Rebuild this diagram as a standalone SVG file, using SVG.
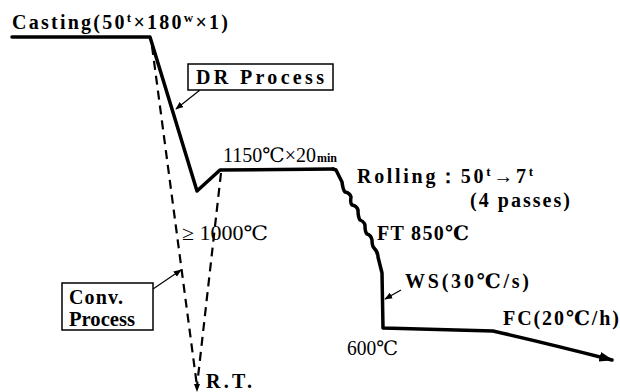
<svg xmlns="http://www.w3.org/2000/svg" width="620" height="392" viewBox="0 0 620 392">
<defs>
<style>
.t{font-family:"Liberation Serif","DejaVu Serif",serif;font-size:20px;fill:#000;font-weight:bold}
.tn{font-family:"Liberation Serif","DejaVu Serif",serif;font-size:20px;fill:#000}
.main{fill:none;stroke:#000;stroke-width:3.5;stroke-linejoin:round;stroke-linecap:round}
.dash{fill:none;stroke:#000;stroke-width:2.2;stroke-dasharray:9,6}
.lead{fill:none;stroke:#000;stroke-width:1.2}
.box{fill:#fff;stroke:#000;stroke-width:1.5}
</style>
<marker id="ah" viewBox="0 0 10 10" refX="9" refY="5" markerWidth="8" markerHeight="8" orient="auto" markerUnits="userSpaceOnUse">
<path d="M0,1 L10,5 L0,9 z" fill="#000"/>
</marker>
<marker id="ahb" viewBox="0 0 10 10" refX="9" refY="5" markerWidth="14" markerHeight="14" orient="auto" markerUnits="userSpaceOnUse">
<path d="M0,1.5 L10,5 L0,8.5 z" fill="#000"/>
</marker>
</defs>
<rect width="620" height="392" fill="#fff"/>
<g id="connectors">
<path class="dash" d="M152,46 L197,386"/>
<path class="dash" d="M221,173 L197,386"/>
<path d="M194,384 L200,384 L197,392 z" fill="#000"/>
<path class="main" d="M12,37 L150,37 L197,191 L220,170 L333,169"/>
<path class="main" d="M333,169 L336,170 L342,182 Q343,190 345,192 Q350,193 351,197 Q350,203 352,205 Q357,206 358,210 Q358,217 360,220 Q365,222 365,226 Q365,232 367,234 Q371,235 372,240 Q372,246 374,248 Q378,252 378,257 L382,273 L383,328 L493,331 Q550,344 612,360" marker-end="url(#ahb)"/>
<path class="lead" d="M200,90 L176,109" marker-end="url(#ah)"/>
<path class="lead" d="M153,289 L181,270" marker-end="url(#ah)"/>
<path class="lead" d="M401,290 L385,299" marker-end="url(#ah)"/>
</g>
<g id="casting"><text class="t" x="12" y="29" textLength="216" lengthAdjust="spacing">Casting(50<tspan font-size="13" dy="-7">t</tspan><tspan dy="7">×180</tspan><tspan font-size="13" dy="-7">w</tspan><tspan dy="7">×1)</tspan></text></g>
<g id="dr-process"><rect class="box" x="188" y="64" width="145" height="26"/><text class="t" x="196" y="84" textLength="128" lengthAdjust="spacing">DR Process</text></g>
<g id="soak"><text class="tn" x="223" y="162" font-size="17.5">1150℃×20<tspan font-size="12" font-weight="bold" dx="1">min</tspan></text></g>
<g id="rolling"><text class="t" x="357" y="183" textLength="176" lengthAdjust="spacing">Rolling：50<tspan font-size="13" dy="-7">t</tspan><tspan dy="7">→7</tspan><tspan font-size="13" dy="-7">t</tspan></text><text class="t" x="470" y="207" textLength="100" lengthAdjust="spacing">(4 passes)</text></g>
<g id="ft"><text class="t" x="377" y="240" textLength="92" lengthAdjust="spacing">FT 850℃</text></g>
<g id="ge1000"><text class="tn" x="182" y="240" textLength="86" lengthAdjust="spacingAndGlyphs">≥ 1000℃</text></g>
<g id="conv-process"><rect class="box" x="62" y="283" width="91" height="47"/><text class="t" x="69" y="304" textLength="54" lengthAdjust="spacing">Conv.</text><text class="t" x="69" y="326" textLength="66" lengthAdjust="spacingAndGlyphs">Process</text></g>
<g id="ws"><text class="t" x="405" y="288" textLength="124" lengthAdjust="spacing">WS(30℃/s)</text></g>
<g id="fc"><text class="t" x="503" y="325" textLength="116" lengthAdjust="spacing">FC(20℃/h)</text></g>
<g id="t600"><text class="tn" x="347" y="355" textLength="51" lengthAdjust="spacingAndGlyphs">600℃</text></g>
<g id="rt"><text class="t" x="206" y="388" font-size="16" textLength="46" lengthAdjust="spacing">R.T.</text></g>
</svg>
